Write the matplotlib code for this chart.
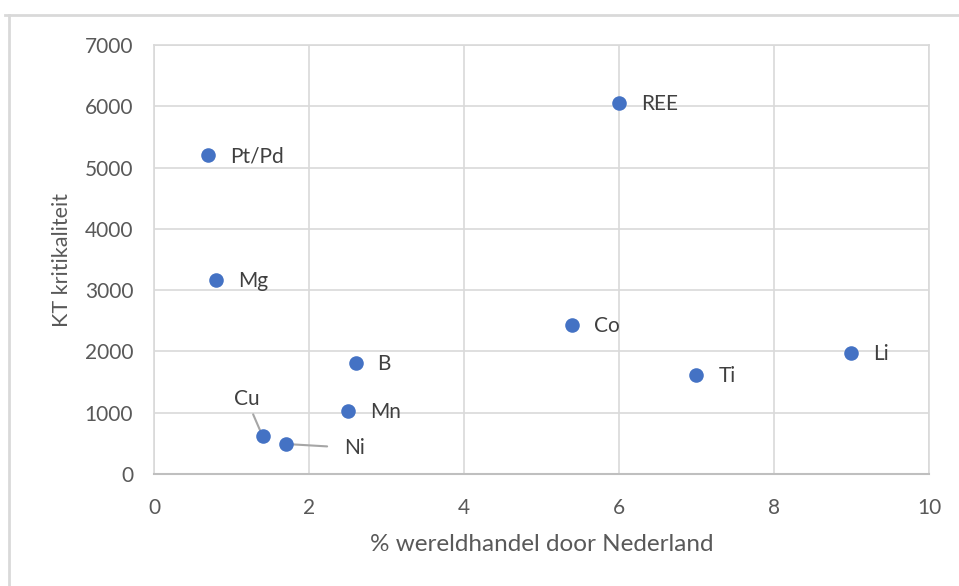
import matplotlib.pyplot as plt
from matplotlib.lines import Line2D

# data
elements = ["Pt/Pd", "REE", "Mg", "Co", "Li", "Ti", "B", "Mn", "Cu", "Ni"]
wereldhandel = [0.7, 6.0, 0.8, 5.4, 9.0, 7.0, 2.6, 2.5, 1.4, 1.7]
kritikaliteit = [5200, 6050, 3170, 2430, 1980, 1620, 1810, 1030, 620, 490]

plt.rcParams['font.family'] = ['Lato', 'DejaVu Sans']

fig = plt.figure(figsize=(9.59, 5.86), dpi=100)
ax = fig.add_axes([0.1606, 0.1911, 0.8081, 0.7321])

# outer chart frame (top + left visible)
fig.add_artist(Line2D([5/959, 1.0], [1 - 14.5/586, 1 - 14.5/586], color="#d9d9d9", lw=2))
fig.add_artist(Line2D([8.5/959, 8.5/959], [0, 1 - 14.5/586], color="#d9d9d9", lw=2))

ax.scatter(wereldhandel, kritikaliteit, s=110, color="#4472C4", zorder=4, linewidths=0)

ax.set_xlim(0, 10)
ax.set_ylim(0, 7000)
ax.set_xticks(range(0, 11, 2))
ax.set_yticks(range(0, 7001, 1000))
ax.grid(True, color="#d9d9d9", lw=1.2)
ax.set_axisbelow(True)
for s in ["top", "right", "left"]:
    ax.spines[s].set_color("#d9d9d9")
    ax.spines[s].set_linewidth(1.2)
ax.spines["bottom"].set_color("#bfbfbf")
ax.spines["bottom"].set_linewidth(1.5)
ax.tick_params(length=0, labelsize=15, labelcolor="#595959")
ax.tick_params(axis="x", pad=17)
ax.tick_params(axis="y", pad=15)

ax.set_xlabel("% wereldhandel door Nederland", fontsize=17.5, color="#595959", labelpad=12)
ax.set_ylabel("KT kritikaliteit", fontsize=15.5, color="#595959", labelpad=9)

# labels right of the points
for name, x, y in zip(elements, wereldhandel, kritikaliteit):
    if name in ("Cu", "Ni"):
        continue
    ax.annotate(name, (x, y), xytext=(22, -1), textcoords="offset pixels",
                ha="left", va="center", fontsize=15, color="#404040")

# labels with leader lines
ax.annotate("Cu", (1.4, 620), xytext=(-16, 37), textcoords="offset pixels",
            ha="center", va="center", fontsize=15, color="#404040", zorder=3,
            arrowprops=dict(arrowstyle="-", color="#a6a6a6", lw=1.5, shrinkA=2, shrinkB=0))
ax.annotate("Ni", (1.7, 490), xytext=(58, -4), textcoords="offset pixels",
            ha="left", va="center", fontsize=15, color="#404040", zorder=3,
            arrowprops=dict(arrowstyle="-", color="#a6a6a6", lw=1.5, shrinkA=10, shrinkB=0))

fig.savefig("out.png", dpi=100)
